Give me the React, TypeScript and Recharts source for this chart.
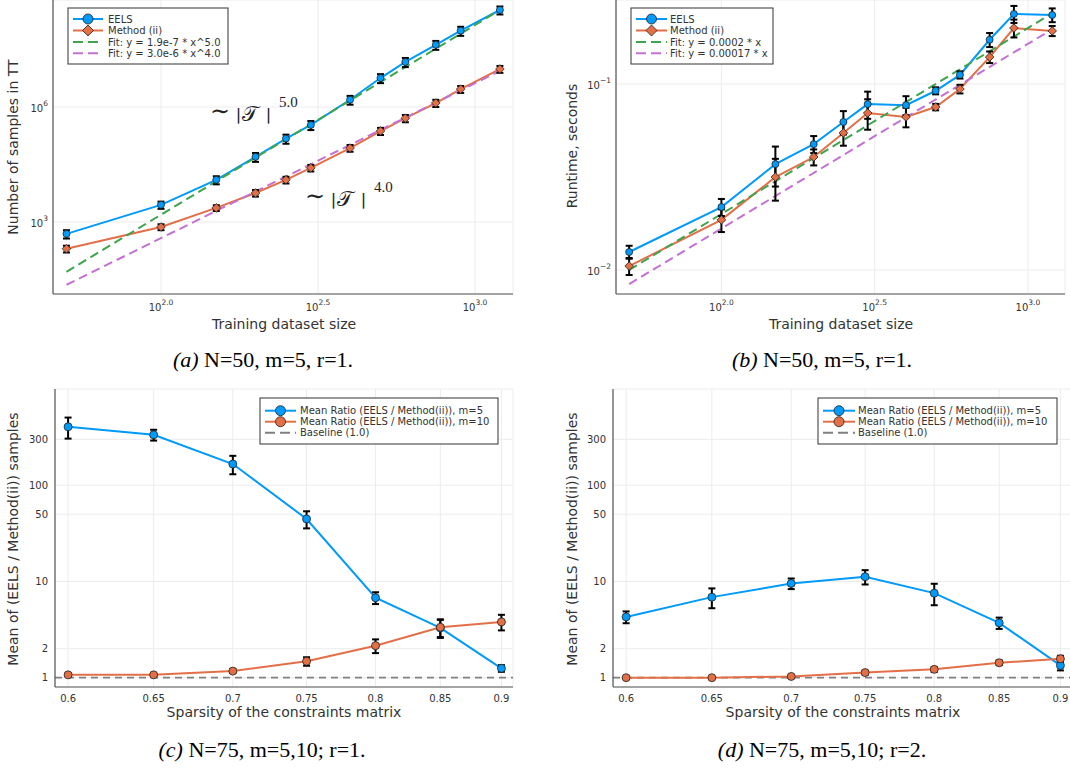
import React from 'react';
import { LineChart, Line, XAxis, YAxis, CartesianGrid, ErrorBar, ReferenceLine } from 'recharts';

// ---------------- data ----------------
const trainingSizes = [50, 100, 150, 200, 250, 300, 400, 500, 600, 750, 900, 1200];
const eelsSamples = [490, 2800, 12600, 50000, 150000, 340000, 1550000, 5700000, 15000000, 42000000, 98000000, 340000000];
const eelsSamplesErr = [120, 600, 3000, 13000, 40000, 90000, 400000, 1500000, 4000000, 11000000, 26000000, 80000000];
const methodSamples = [200, 740, 2330, 5700, 12600, 25800, 85000, 236000, 510000, 1270000, 2930000, 9800000];
const methodSamplesErr = [40, 130, 400, 1100, 2500, 5000, 17000, 50000, 110000, 270000, 600000, 2000000];
const fitSizes = [50, 1200];
const fitSamplesPow5 = [50, 340000000];
const fitSamplesPow4 = [23, 8700000];

const eelsRuntime = [0.0125, 0.0218, 0.0371, 0.0475, 0.0625, 0.078, 0.077, 0.092, 0.112, 0.173, 0.238, 0.235];
const eelsRuntimeErr = [0.001, 0.0023, 0.009, 0.005, 0.009, 0.013, 0.009, 0.004, 0.005, 0.015, 0.025, 0.02];
const methodRuntime = [0.0105, 0.0186, 0.0316, 0.0405, 0.0546, 0.0698, 0.0665, 0.0752, 0.094, 0.1396, 0.2, 0.193];
const methodRuntimeErr = [0.0011, 0.0026, 0.008, 0.004, 0.008, 0.013, 0.008, 0.003, 0.005, 0.01, 0.022, 0.012];
const fitRuntimeA = [0.01, 0.24];
const fitRuntimeB = [0.0084, 0.197];

const sparsity = [0.6, 0.65, 0.7, 0.75, 0.8, 0.85, 0.9];
const ratioM5R1 = [405, 334, 166, 44.6, 6.77, 3.29, 1.25];
const ratioM5R1Err = [100, 43, 36, 9, 0.95, 0.7, 0.1];
const ratioM10R1 = [1.07, 1.07, 1.17, 1.48, 2.15, 3.34, 3.8];
const ratioM10R1Err = [0.03, 0.03, 0.05, 0.15, 0.35, 0.7, 0.7];
const ratioM5R2 = [4.28, 6.87, 9.53, 11.2, 7.56, 3.71, 1.34];
const ratioM5R2Err = [0.6, 1.6, 1.2, 1.9, 1.9, 0.5, 0.15];
const ratioM10R2 = [1.0, 1.0, 1.03, 1.13, 1.22, 1.43, 1.57];
const ratioM10R2Err = [0.02, 0.02, 0.03, 0.05, 0.07, 0.08, 0.12];
const baselineRatio = 1;

const sizeTicks = [100, 316.2278, 1000];
const sizeTickExps = ['2.0', '2.5', '3.0'];
const samplesTicks = [1000, 1000000];
const samplesTickExps = ['3', '6'];
const runtimeTicks = [0.01, 0.1];
const runtimeTickExps = ['\u22122', '\u22121'];
const ratioTicks = [1, 2, 10, 50, 100, 300];

// ---------------- styling ----------------
const SANS = "'DejaVu Sans', sans-serif";
const SERIF = "'Liberation Serif', 'DejaVu Serif', serif";
const C_BLUE = '#009AFA';
const C_ORANGE = '#E36F47';
const C_GREEN = '#3EA44E';
const C_PURPLE = '#C371D2';
const C_GRAY = '#808080';
const AXIS = '#555555';
const TXT = '#333333';

type Pt = { x: number; y: number; e: number };
const toRows = (xs: number[], ys: number[], es?: number[]): Pt[] =>
  xs.map((x, i) => ({ x, y: ys[i], e: es ? es[i] : 0 }));

const circleDot = (color: string, r: number) => (p: any) => (
  <circle key={`c${p.index}`} cx={p.cx} cy={p.cy} r={r} fill={color} stroke="#222" strokeWidth={0.8} />
);
const diamondDot = (color: string, s: number) => (p: any) => (
  <polygon
    key={`d${p.index}`}
    points={`${p.cx},${p.cy - s} ${p.cx + s},${p.cy} ${p.cx},${p.cy + s} ${p.cx - s},${p.cy}`}
    fill={color}
    stroke="#222"
    strokeWidth={0.8}
  />
);

const powXTick = (values: number[], exps: string[]) => (p: any) => {
  const i = values.findIndex((v) => Math.abs(v - p.payload.value) < 1e-4 * v);
  return (
    <text x={p.x} y={p.y + 17} textAnchor="middle" fontFamily={SANS} fontSize={10} fill={TXT}>
      10<tspan dy={-6} fontSize={7.5}>{exps[i]}</tspan>
    </text>
  );
};
const powYTick = (values: number[], exps: string[]) => (p: any) => {
  const i = values.findIndex((v) => Math.abs(v - p.payload.value) < 1e-4 * v);
  return (
    <text x={p.x - 5} y={p.y + 5} textAnchor="end" fontFamily={SANS} fontSize={10} fill={TXT}>
      10<tspan dy={-6} fontSize={7.5}>{exps[i]}</tspan>
    </text>
  );
};
const plainXTick = (p: any) => (
  <text x={p.x} y={p.y + 15} textAnchor="middle" fontFamily={SANS} fontSize={10} fill={TXT}>
    {String(p.payload.value)}
  </text>
);
const plainYTick = (p: any) => (
  <text x={p.x - 7} y={p.y + 3.5} textAnchor="end" fontFamily={SANS} fontSize={10} fill={TXT}>
    {String(p.payload.value)}
  </text>
);

interface SeriesSpec {
  rows: Pt[];
  color: string;
  dash?: string;
  marker?: 'circle' | 'diamond';
  errors?: boolean;
}

interface PanelProps {
  left: number;
  top: number;
  width: number;
  height: number;
  marginTop: number;
  marginRight: number;
  yAxisWidth: number;
  xAxisHeight: number;
  xDomain: [number, number];
  yDomain: [number, number];
  xTicks: number[];
  yTicks: number[];
  xTick: any;
  yTick: any;
  series: SeriesSpec[];
  baseline?: number;
  markerR: number;
}

function Panel(props: PanelProps) {
  const { series } = props;
  return (
    <div style={{ position: 'absolute', left: props.left, top: props.top }}>
      <LineChart
        width={props.width}
        height={props.height}
        margin={{ top: props.marginTop, right: props.marginRight, bottom: 0, left: 0 }}
      >
        <CartesianGrid stroke="#ececec" strokeWidth={1} />
        <XAxis
          type="number"
          dataKey="x"
          scale="log"
          domain={props.xDomain}
          allowDataOverflow
          ticks={props.xTicks}
          interval={0}
          tick={props.xTick}
          tickLine={false}
          tickSize={0}
          tickMargin={0}
          axisLine={{ stroke: AXIS, strokeWidth: 1.2 }}
          height={props.xAxisHeight}
        />
        <YAxis
          type="number"
          dataKey="y"
          scale="log"
          domain={props.yDomain}
          allowDataOverflow
          ticks={props.yTicks}
          interval={0}
          tick={props.yTick}
          tickLine={false}
          tickSize={0}
          tickMargin={0}
          axisLine={{ stroke: AXIS, strokeWidth: 1.2 }}
          width={props.yAxisWidth}
        />
        {props.baseline != null && (
          <ReferenceLine y={props.baseline} stroke={C_GRAY} strokeWidth={1.6} strokeDasharray="7 5" />
        )}
        {series.map((s, k) => (
          <Line
            key={`l${k}`}
            data={s.rows}
            dataKey="y"
            type="linear"
            stroke={s.color}
            strokeWidth={2}
            strokeDasharray={s.dash}
            dot={
              s.marker === 'circle'
                ? circleDot(s.color, props.markerR)
                : s.marker === 'diamond'
                ? diamondDot(s.color, props.markerR + 0.8)
                : false
            }
            activeDot={false}
            isAnimationActive={false}
          />
        ))}
        {series.map((s, k) =>
          s.errors ? (
            <Line
              key={`e${k}`}
              data={s.rows}
              dataKey="y"
              stroke="none"
              dot={false}
              activeDot={false}
              isAnimationActive={false}
            >
              <ErrorBar dataKey="e" width={3.5} strokeWidth={2} stroke="#000" direction="y" />
            </Line>
          ) : null
        )}
      </LineChart>
    </div>
  );
}

type LegendItem = { label: string; color: string; kind: 'circle' | 'diamond' | 'dash' | 'gray' };

function LegendBox({ x, y, w, h, rows, lx1, lx2, tx, items }: { x: number; y: number; w: number; h: number; rows: number[]; lx1: number; lx2: number; tx: number; items: LegendItem[] }) {
  const mx = (lx1 + lx2) / 2;
  return (
    <g>
      <rect x={x} y={y} width={w} height={h} fill="#fff" stroke="#333" strokeWidth={1} />
      {items.map((it, i) => {
        const cy = rows[i];
        return (
          <g key={i}>
            <line
              x1={lx1}
              x2={lx2}
              y1={cy}
              y2={cy}
              stroke={it.color}
              strokeWidth={2}
              strokeDasharray={it.kind === 'dash' || it.kind === 'gray' ? '10 5' : undefined}
            />
            {it.kind === 'circle' && <circle cx={mx} cy={cy} r={5} fill={it.color} stroke="#222" strokeWidth={0.8} />}
            {it.kind === 'diamond' && (
              <polygon
                points={`${mx},${cy - 5.5} ${mx + 5.5},${cy} ${mx},${cy + 5.5} ${mx - 5.5},${cy}`}
                fill={it.color}
                stroke="#222"
                strokeWidth={0.8}
              />
            )}
            <text x={tx} y={cy + 3.6} fontFamily={SANS} fontSize={10} fill={TXT}>
              {it.label}
            </text>
          </g>
        );
      })}
    </g>
  );
}

function PowerNote({ x, y, exp }: { x: number; y: number; exp: string }) {
  // "∼ | T |^exp" laid out like the LaTeX annotation
  const ink = '#222222';
  return (
    <g>
      <text x={x} y={y - 2} fontFamily={SERIF} fontSize={24} fill={ink}>∼</text>
      <text x={x + 26} y={y + 1} fontFamily="'DejaVu Serif', serif" fontSize={17} fill={ink} stroke="none">{'\u2223'}</text>
      <text x={x + 32} y={y} fontFamily={SERIF} fontSize={21} fill={ink}>𝒯</text>
      <text x={x + 56} y={y + 1} fontFamily="'DejaVu Serif', serif" fontSize={17} fill={ink} stroke="none">{'\u2223'}</text>
      <text x={x + 69} y={y - 14} fontFamily={SERIF} fontSize={15} fill={ink}>{exp}</text>
    </g>
  );
}

export default function App() {
  const eelsA = toRows(trainingSizes, eelsSamples, eelsSamplesErr);
  const methA = toRows(trainingSizes, methodSamples, methodSamplesErr);
  const fit5 = toRows(fitSizes, fitSamplesPow5);
  const fit4 = toRows(fitSizes, fitSamplesPow4);
  const eelsB = toRows(trainingSizes, eelsRuntime, eelsRuntimeErr);
  const methB = toRows(trainingSizes, methodRuntime, methodRuntimeErr);
  const fitBA = toRows(fitSizes, fitRuntimeA);
  const fitBB = toRows(fitSizes, fitRuntimeB);
  const m5r1 = toRows(sparsity, ratioM5R1, ratioM5R1Err);
  const m10r1 = toRows(sparsity, ratioM10R1, ratioM10R1Err);
  const m5r2 = toRows(sparsity, ratioM5R2, ratioM5R2Err);
  const m10r2 = toRows(sparsity, ratioM10R2, ratioM10R2Err);

  const sizeDomain: [number, number] = [45.3, 1321];
  const sparsityDomain: [number, number] = [0.5927, 0.9098];

  return (
    <div style={{ position: 'absolute', left: 0, top: 0, width: 1070, height: 771, overflow: 'hidden', background: '#fff' }}>
      <Panel
        left={0}
        top={0}
        width={530}
        height={320}
        marginTop={0}
        marginRight={17}
        yAxisWidth={53}
        xAxisHeight={26}
        xDomain={sizeDomain}
        yDomain={[13.2, 620000000]}
        xTicks={sizeTicks}
        yTicks={samplesTicks}
        xTick={powXTick(sizeTicks, sizeTickExps)}
        yTick={powYTick(samplesTicks, samplesTickExps)}
        markerR={3.5}
        series={[
          { rows: eelsA, color: C_BLUE, marker: 'circle', errors: true },
          { rows: methA, color: C_ORANGE, marker: 'diamond', errors: true },
          { rows: fit5, color: C_GREEN, dash: '9 5' },
          { rows: fit4, color: C_PURPLE, dash: '9 5' },
        ]}
      />
      <Panel
        left={540}
        top={0}
        width={530}
        height={320}
        marginTop={0}
        marginRight={5}
        yAxisWidth={76}
        xAxisHeight={26}
        xDomain={sizeDomain}
        yDomain={[0.00743, 0.283]}
        xTicks={sizeTicks}
        yTicks={runtimeTicks}
        xTick={powXTick(sizeTicks, sizeTickExps)}
        yTick={powYTick(runtimeTicks, runtimeTickExps)}
        markerR={3.5}
        series={[
          { rows: eelsB, color: C_BLUE, marker: 'circle', errors: true },
          { rows: methB, color: C_ORANGE, marker: 'diamond', errors: true },
          { rows: fitBA, color: C_GREEN, dash: '9 5' },
          { rows: fitBB, color: C_PURPLE, dash: '9 5' },
        ]}
      />
      <Panel
        left={0}
        top={380}
        width={530}
        height={330}
        marginTop={9}
        marginRight={17}
        yAxisWidth={55}
        xAxisHeight={23}
        xDomain={sparsityDomain}
        yDomain={[0.8, 1000]}
        xTicks={sparsity}
        yTicks={ratioTicks}
        xTick={plainXTick}
        yTick={plainYTick}
        markerR={4}
        baseline={baselineRatio}
        series={[
          { rows: m5r1, color: C_BLUE, marker: 'circle', errors: true },
          { rows: m10r1, color: C_ORANGE, marker: 'circle', errors: true },
        ]}
      />
      <Panel
        left={540}
        top={380}
        width={540}
        height={330}
        marginTop={9}
        marginRight={8}
        yAxisWidth={73}
        xAxisHeight={23}
        xDomain={sparsityDomain}
        yDomain={[0.8, 1000]}
        xTicks={sparsity}
        yTicks={ratioTicks}
        xTick={plainXTick}
        yTick={plainYTick}
        markerR={4}
        baseline={baselineRatio}
        series={[
          { rows: m5r2, color: C_BLUE, marker: 'circle', errors: true },
          { rows: m10r2, color: C_ORANGE, marker: 'circle', errors: true },
        ]}
      />

      <svg width={1070} height={771} style={{ position: 'absolute', left: 0, top: 0, pointerEvents: 'none' }}>
        {/* legends */}
        <LegendBox
          x={68} y={8} w={160} h={56}
          rows={[19, 30.5, 42, 53.3]}
          lx1={73} lx2={103} tx={108}
          items={[
            { label: 'EELS', color: C_BLUE, kind: 'circle' },
            { label: 'Method (ii)', color: C_ORANGE, kind: 'diamond' },
            { label: 'Fit: y = 1.9e-7 * x^5.0', color: C_GREEN, kind: 'dash' },
            { label: 'Fit: y = 3.0e-6 * x^4.0', color: C_PURPLE, kind: 'dash' },
          ]}
        />
        <LegendBox
          x={631} y={8} w={142} h={56}
          rows={[19, 30.5, 42, 53.3]}
          lx1={636} lx2={667} tx={670}
          items={[
            { label: 'EELS', color: C_BLUE, kind: 'circle' },
            { label: 'Method (ii)', color: C_ORANGE, kind: 'diamond' },
            { label: 'Fit: y = 0.0002 * x', color: C_GREEN, kind: 'dash' },
            { label: 'Fit: y = 0.00017 * x', color: C_PURPLE, kind: 'dash' },
          ]}
        />
        <LegendBox
          x={260} y={398} w={238} h={46}
          rows={[410.7, 421.7, 432.7]}
          lx1={265} lx2={296} tx={300}
          items={[
            { label: 'Mean Ratio (EELS / Method(ii)), m=5', color: C_BLUE, kind: 'circle' },
            { label: 'Mean Ratio (EELS / Method(ii)), m=10', color: C_ORANGE, kind: 'circle' },
            { label: 'Baseline (1.0)', color: C_GRAY, kind: 'gray' },
          ]}
        />
        <LegendBox
          x={818} y={398} w={239} h={46}
          rows={[410.7, 421.7, 432.7]}
          lx1={823} lx2={855} tx={858}
          items={[
            { label: 'Mean Ratio (EELS / Method(ii)), m=5', color: C_BLUE, kind: 'circle' },
            { label: 'Mean Ratio (EELS / Method(ii)), m=10', color: C_ORANGE, kind: 'circle' },
            { label: 'Baseline (1.0)', color: C_GRAY, kind: 'gray' },
          ]}
        />

        {/* annotations */}
        <PowerNote x={210} y={121} exp="5.0" />
        <PowerNote x={305} y={206} exp="4.0" />

        {/* axis titles */}
        <text x={284} y={329} textAnchor="middle" fontFamily={SANS} fontSize={14} fill={TXT}>Training dataset size</text>
        <text transform="translate(18,147) rotate(-90)" textAnchor="middle" fontFamily={SANS} fontSize={14} fill={TXT}>Number of samples in TT</text>
        <text x={841} y={329} textAnchor="middle" fontFamily={SANS} fontSize={14} fill={TXT}>Training dataset size</text>
        <text transform="translate(577,146) rotate(-90)" textAnchor="middle" fontFamily={SANS} fontSize={14} fill={TXT}>Runtime, seconds</text>
        <text x={284} y={717} textAnchor="middle" fontFamily={SANS} fontSize={14} fill={TXT}>Sparsity of the constraints matrix</text>
        <text transform="translate(18,539) rotate(-90)" textAnchor="middle" fontFamily={SANS} fontSize={14} fill={TXT}>Mean of (EELS / Method(ii)) samples</text>
        <text x={843} y={717} textAnchor="middle" fontFamily={SANS} fontSize={14} fill={TXT}>Sparsity of the constraints matrix</text>
        <text transform="translate(577,539) rotate(-90)" textAnchor="middle" fontFamily={SANS} fontSize={14} fill={TXT}>Mean of (EELS / Method(ii)) samples</text>

        {/* captions */}
        <text x={263} y={367} textAnchor="middle" fontFamily={SERIF} fontSize={22} fill="#000">
          <tspan fontStyle="italic">(a)</tspan> N=50, m=5, r=1.
        </text>
        <text x={822} y={367} textAnchor="middle" fontFamily={SERIF} fontSize={22} fill="#000">
          <tspan fontStyle="italic">(b)</tspan> N=50, m=5, r=1.
        </text>
        <text x={262} y={757} textAnchor="middle" fontFamily={SERIF} fontSize={22} fill="#000">
          <tspan fontStyle="italic">(c)</tspan> N=75, m=5,10; r=1.
        </text>
        <text x={822} y={757} textAnchor="middle" fontFamily={SERIF} fontSize={22} fill="#000">
          <tspan fontStyle="italic">(d)</tspan> N=75, m=5,10; r=2.
        </text>
      </svg>
    </div>
  );
}
